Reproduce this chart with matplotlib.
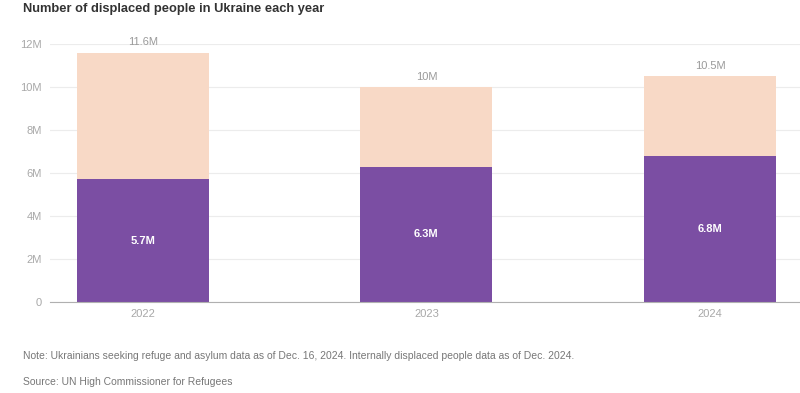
import numpy as np
import matplotlib.pyplot as plt

plt.rcParams['font.family'] = ['Liberation Sans', 'DejaVu Sans']

# Data (millions)
years = ['2022', '2023', '2024']
displaced_internal = [5.7, 6.3, 6.8]
totals = [11.6, 10.0, 10.5]
refugees = [t - d for t, d in zip(totals, displaced_internal)]
total_labels = ['11.6M', '10M', '10.5M']
inner_labels = ['5.7M', '6.3M', '6.8M']
yticks = [0, 2, 4, 6, 8, 10, 12]
ytick_labels = ['0', '2M', '4M', '6M', '8M', '10M', '12M']

purple = '#7b4ea3'
peach = '#f8d9c6'

fig = plt.figure(figsize=(8, 3.93), dpi=100)
ax = fig.add_axes([0.0625, 0.2316, 0.9375, 0.6565])

x = np.arange(len(years))
ax.bar(x, displaced_internal, width=0.465, color=purple, zorder=2)
ax.bar(x, refugees, bottom=displaced_internal, width=0.465, color=peach, zorder=2)

for i in range(len(years)):
    ax.text(x[i], displaced_internal[i] / 2, inner_labels[i], ha='center', va='center',
            color='white', fontsize=8, fontweight='bold')
    ax.text(x[i], totals[i] + 0.25, total_labels[i], ha='center', va='bottom',
            color='#9a9a9a', fontsize=8, clip_on=False)

ax.set_xlim(-0.327, 2.317)
ax.set_ylim(0, 12)
ax.set_yticks(yticks)
ax.set_yticklabels(ytick_labels)
ax.set_xticks(x)
ax.set_xticklabels(years)
ax.tick_params(axis='both', length=0, labelsize=8, colors='#a8a8a8')
ax.tick_params(axis='y', pad=6)
ax.tick_params(axis='x', pad=5)
ax.grid(axis='y', color='#ececec', linewidth=0.8, zorder=0)
for s in ['top', 'right', 'left']:
    ax.spines[s].set_visible(False)
ax.spines['bottom'].set_color('#b0b0b0')
ax.spines['bottom'].set_linewidth(0.8)
ax.spines['bottom'].set_zorder(3)

fig.text(0.029, 0.993, 'Number of displaced people in Ukraine each year', ha='left', va='top',
         fontsize=9.3, fontweight='bold', color='#333333')
fig.text(0.029, 0.093, 'Note: Ukrainians seeking refuge and asylum data as of Dec. 16, 2024. '
         'Internally displaced people data as of Dec. 2024.',
         ha='left', va='center', fontsize=7.45, color='#777777')
fig.text(0.029, 0.028, 'Source: UN High Commissioner for Refugees',
         ha='left', va='center', fontsize=7.45, color='#777777')

fig.savefig('out.png', dpi=100)
